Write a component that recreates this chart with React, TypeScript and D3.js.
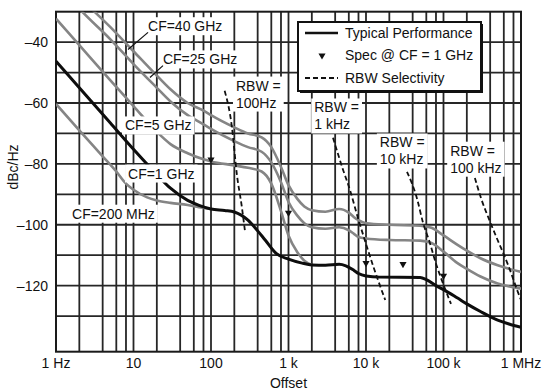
import React, { useEffect, useRef } from 'react';
import * as d3 from 'd3';

const W = 545;
const H = 391;

// axes
const xDomain = [1, 1e6];
const yDomain = [-30, -141.7];
const xTickValues = [1, 10, 100, 1e3, 1e4, 1e5, 1e6];
const xTickLabels = ['1 Hz', '10', '100', '1 k', '10 k', '100 k', '1 MHz'];
const yTickValues = [-40, -60, -80, -100, -120];
const yTickLabels = ['–40', '–60', '–80', '–100', '–120'];
const yGridValues = [-40, -50, -60, -70, -80, -90, -100, -110, -120, -130];
const gridMultiples = [1, 2, 4, 6, 8];

// Typical performance, CF = 1 GHz (black)
const typFreq = [1, 2, 5, 10, 20, 30, 50, 70, 100, 150, 200, 300, 400, 500, 700, 1000, 1500, 2000, 3000, 4500, 5500, 7000, 8000, 10000, 15000, 50000, 60000, 80000, 100000, 150000, 200000, 300000, 500000, 700000, 1000000];
const typDb = [-46.3, -55, -66.5, -75.2, -83.5, -88, -92, -93.6, -94.8, -95.3, -95.8, -98.5, -102, -105, -109.5, -111.3, -112.6, -113.2, -113.3, -113, -113.5, -115, -116, -116.8, -117.2, -117.3, -118, -120, -121.3, -124, -126, -128.5, -131.3, -132.6, -133.7];

// CF = 40 GHz
const cf40Freq = [1, 2, 5, 10, 20, 30, 50, 80, 100, 200, 300, 450, 600, 800, 1000, 1300, 1600, 2000, 3000, 4500, 6000, 7000, 8000, 10000, 20000, 50000, 70000, 100000, 150000, 200000, 300000, 500000, 1000000];
const cf40Db = [-16, -25, -35, -43, -51, -55.5, -60, -62.5, -64, -68, -70, -71.3, -74.5, -81, -87, -91.5, -94, -95.2, -95.7, -94.8, -96, -97.5, -98.5, -99.5, -100, -100.3, -101, -103.5, -106.5, -108.5, -111, -113.3, -115.5];

// CF = 25 GHz
const cf25Freq = [1, 2, 5, 10, 20, 30, 50, 80, 100, 200, 300, 450, 600, 800, 1000, 1300, 1600, 2000, 3000, 4500, 6000, 7000, 8000, 10000, 20000, 50000, 70000, 100000, 150000, 200000, 300000, 500000, 1000000];
const cf25Db = [-20, -29, -39, -47.2, -55, -59.5, -64, -67, -68.5, -72.5, -74.5, -76, -79.5, -86, -92.5, -97, -99.5, -100.8, -101.3, -100.8, -101.8, -103, -104, -104.5, -105, -105.2, -106, -108.8, -112.5, -114.5, -117, -119.3, -121];

// CF = 5 GHz
const cf5Freq = [1, 2, 5, 10, 20, 30, 50, 80, 100, 200, 300, 450, 600, 800, 1000, 1300, 1600, 2000];
const cf5Db = [-32.3, -41, -52.5, -61, -69.5, -73.5, -76.5, -78.5, -79.2, -80.5, -81.3, -82.5, -86.5, -95.5, -103.5, -109, -111.8, -113.2];

// CF = 200 MHz
const cf200Freq = [1, 2, 4, 6, 8, 10, 15, 20, 30, 50, 70, 100];
const cf200Db = [-60.3, -69, -77.5, -82.5, -86.5, -88.5, -91, -92, -92.8, -93.5, -94.2, -94.8];

// Spec @ CF = 1 GHz
const specFreq = [100, 1000, 10000, 30000, 100000];
const specDb = [-78.6, -96.1, -112.6, -112.9, -116.8];

// RBW selectivity
const rbw100Freq = [150, 186, 216, 250, 275];
const rbw100Db = [-56, -67.8, -83.6, -94.1, -102.3];
const rbw1kFreq = [3750, 5050, 6200, 7800, 10300, 12500, 14300, 17700];
const rbw1kDb = [-71.4, -81.9, -88.5, -97.4, -107.3, -113.9, -118.2, -124.7];
const rbw10kFreq = [33800, 46000, 54000, 66000, 81000, 97000, 125000];
const rbw10kDb = [-82.6, -91.8, -99, -105.6, -113.2, -118.8, -126];
const rbw100kFreq = [254000, 310000, 390000, 480000, 590000, 720000, 890000, 1000000];
const rbw100kDb = [-84.6, -91.8, -98.4, -104, -109.3, -114.8, -121.4, -124.7];

// annotations
const labelLines = [['CF=40 GHz'], ['CF=25 GHz'], ['CF=5 GHz'], ['CF=1 GHz'], ['CF=200 MHz'], ['RBW =', '100Hz'], ['RBW =', '1 kHz'], ['RBW =', '10 kHz'], ['RBW =', '100 kHz']];
const labelFreq = [15.4, 24, 7.77, 8.5, 1.61, 210, 2150, 15100, 122000];
const labelDb = [-34.8, -45.7, -67.4, -83.2, -96.4, -54.3, -61.5, -73, -75.7];
const leaderFromFreq = [15.4, 24];
const leaderFromDb = [-36.8, -47.7];
const leaderToFreq = [8.5, 16.3];
const leaderToDb = [-42.4, -51.6];

const legendLabels = ['Typical Performance', 'Spec @ CF = 1 GHz', 'RBW Selectivity'];

const FONT = '"Liberation Sans", Arial, Helvetica, sans-serif';

export default function App() {
  const ref = useRef<SVGSVGElement>(null);

  useEffect(() => {
    const svg = d3.select(ref.current);
    svg.selectAll('*').remove();

    const x = d3.scaleLog().domain(xDomain).range([56, 521]);
    const y = d3.scaleLinear().domain(yDomain).range([11.7, 351.7]);

    svg.append('rect').attr('width', W).attr('height', H).attr('fill', '#fff');

    const defs = svg.append('defs');
    defs.append('clipPath').attr('id', 'plotclip')
      .append('rect')
      .attr('x', x(xDomain[0])).attr('y', y(yDomain[0]))
      .attr('width', x(xDomain[1]) - x(xDomain[0]))
      .attr('height', y(yDomain[1]) - y(yDomain[0]));

    // grid
    const grid = svg.append('g').attr('stroke', '#262626').attr('stroke-width', 1.8);
    const vGrid: number[] = [];
    for (let d = 1; d < 1e6; d *= 10) gridMultiples.forEach(m => vGrid.push(d * m));
    grid.selectAll('line.v').data(vGrid).join('line')
      .attr('x1', d => x(d)).attr('x2', d => x(d))
      .attr('y1', y(yDomain[0])).attr('y2', y(yDomain[1]));
    grid.selectAll('line.h').data(yGridValues).join('line')
      .attr('x1', x(xDomain[0])).attr('x2', x(xDomain[1]))
      .attr('y1', d => y(d)).attr('y2', d => y(d));

    // frame
    svg.append('rect')
      .attr('x', x(xDomain[0])).attr('y', y(yDomain[0]))
      .attr('width', x(xDomain[1]) - x(xDomain[0]))
      .attr('height', y(yDomain[1]) - y(yDomain[0]))
      .attr('fill', 'none').attr('stroke', '#1a1a1a').attr('stroke-width', 2);

    // axis labels
    const txt = svg.append('g').attr('font-family', FONT).attr('font-size', 14).attr('fill', '#111');
    txt.selectAll('text.xt').data(xTickValues).join('text')
      .attr('x', d => x(d)).attr('y', 368)
      .attr('text-anchor', 'middle')
      .text((d, i) => xTickLabels[i]);
    txt.selectAll('text.yt').data(yTickValues).join('text')
      .attr('x', 48).attr('y', d => y(d))
      .attr('dy', '0.35em')
      .attr('text-anchor', 'end')
      .text((d, i) => yTickLabels[i]);
    txt.append('text').attr('x', x(1000)).attr('y', 388).attr('text-anchor', 'middle').text('Offset');
    txt.append('text').attr('transform', 'translate(13,167) rotate(-90)')
      .attr('dy', '0.35em').attr('text-anchor', 'middle').text('dBc/Hz');

    const line = d3.line<[number, number]>()
      .x(d => x(d[0])).y(d => y(d[1]))
      .curve(d3.curveMonotoneX);
    const zip = (f: number[], v: number[]) => f.map((ff, i) => [ff, v[i]] as [number, number]);

    const plot = svg.append('g').attr('clip-path', 'url(#plotclip)');
    const grays = [zip(cf40Freq, cf40Db), zip(cf25Freq, cf25Db), zip(cf5Freq, cf5Db), zip(cf200Freq, cf200Db)];
    plot.selectAll('path.gray').data(grays).join('path')
      .attr('d', d => line(d))
      .attr('fill', 'none').attr('stroke', '#858585').attr('stroke-width', 2.6)
      .attr('stroke-linejoin', 'round');
    plot.append('path').attr('d', line(zip(typFreq, typDb)))
      .attr('fill', 'none').attr('stroke', '#0d0d0d').attr('stroke-width', 3)
      .attr('stroke-linejoin', 'round');

    const rbws = [zip(rbw100Freq, rbw100Db), zip(rbw1kFreq, rbw1kDb), zip(rbw10kFreq, rbw10kDb), zip(rbw100kFreq, rbw100kDb)];
    plot.selectAll('path.rbw').data(rbws).join('path')
      .attr('d', d => line(d))
      .attr('fill', 'none').attr('stroke', '#111').attr('stroke-width', 1.8)
      .attr('stroke-dasharray', '5,3');

    const tri = d3.symbol().type(d3.symbolTriangle).size(22);
    plot.selectAll('path.spec').data(zip(specFreq, specDb)).join('path')
      .attr('d', tri())
      .attr('transform', d => `translate(${x(d[0])},${y(d[1])}) rotate(180)`)
      .attr('fill', '#111');

    // annotation labels with white boxes
    const ann = svg.append('g').attr('font-family', FONT).attr('font-size', 14).attr('fill', '#111');
    labelLines.forEach((lines, i) => {
      const g = ann.append('g');
      const bg = g.append('rect').attr('fill', '#fff');
      const t = g.append('text')
        .attr('x', x(labelFreq[i])).attr('y', y(labelDb[i])).attr('dy', '0.35em');
      lines.forEach((s, k) => {
        t.append('tspan').attr('x', x(labelFreq[i])).attr('dy', k === 0 ? '0.35em' : '17').text(s);
      });
      const bb = (t.node() as SVGTextElement).getBBox();
      bg.attr('x', bb.x - 3).attr('y', bb.y - 1).attr('width', bb.width + 6).attr('height', bb.height + 2);
    });
    leaderFromFreq.forEach((f, i) => {
      ann.append('line')
        .attr('x1', x(f)).attr('y1', y(leaderFromDb[i]))
        .attr('x2', x(leaderToFreq[i])).attr('y2', y(leaderToDb[i]))
        .attr('stroke', '#111').attr('stroke-width', 1.2);
    });

    // legend
    const lg = svg.append('g').attr('font-family', FONT).attr('font-size', 14).attr('fill', '#111');
    lg.append('rect').attr('x', 300).attr('y', 24).attr('width', 183).attr('height', 69)
      .attr('fill', '#111');
    lg.append('rect').attr('x', 298).attr('y', 22).attr('width', 183).attr('height', 69)
      .attr('fill', '#fff').attr('stroke', '#111').attr('stroke-width', 2);
    const rowY = [33, 55.5, 78];
    lg.append('line').attr('x1', 305).attr('x2', 338).attr('y1', rowY[0]).attr('y2', rowY[0])
      .attr('stroke', '#111').attr('stroke-width', 2.6);
    lg.append('path').attr('d', tri()).attr('transform', `translate(322,${rowY[1]}) rotate(180)`).attr('fill', '#111');
    lg.append('line').attr('x1', 305).attr('x2', 338).attr('y1', rowY[2]).attr('y2', rowY[2])
      .attr('stroke', '#111').attr('stroke-width', 1.8).attr('stroke-dasharray', '5,3');
    lg.selectAll('text').data(legendLabels).join('text')
      .attr('x', 345).attr('y', (d, i) => rowY[i]).attr('dy', '0.35em')
      .text(d => d);
  }, []);

  return <svg ref={ref} width={W} height={H} style={{ position: 'absolute', left: 0, top: 0 }} />;
}
